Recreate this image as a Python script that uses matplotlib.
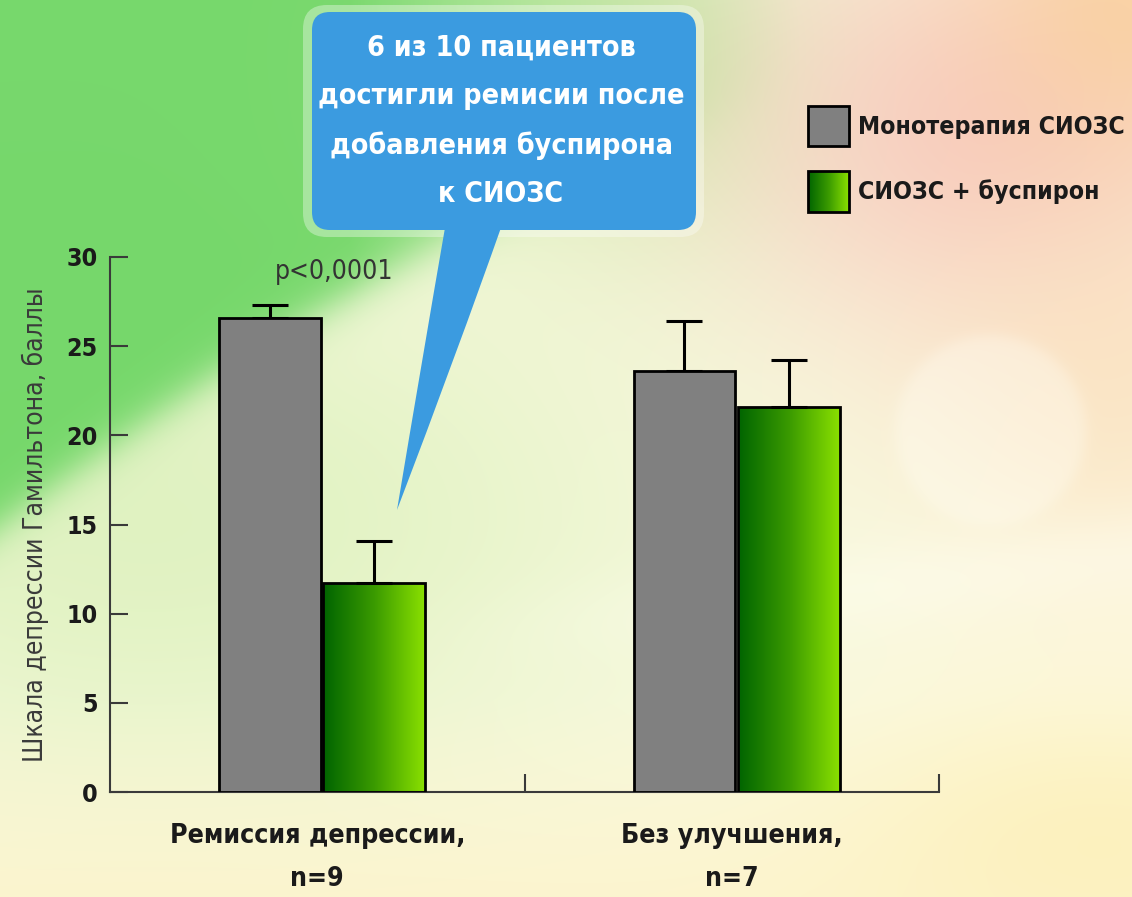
import numpy as np
import matplotlib
matplotlib.use('Agg')
import matplotlib.pyplot as plt
from matplotlib import font_manager as fm
from matplotlib.patches import FancyBboxPatch, Rectangle, PathPatch
from matplotlib.path import Path
from matplotlib.colors import LinearSegmentedColormap

# ---- data ----
groups = ['Ремиссия депрессии,\nn=9', 'Без улучшения,\nn=7']
series = ['Монотерапия СИОЗС', 'СИОЗС + буспирон']
mono_mean = [26.6, 23.6]
mono_err = [0.7, 2.8]
combo_mean = [11.7, 21.6]
combo_err = [2.4, 2.6]
yticks = [0, 5, 10, 15, 20, 25, 30]
ylabel = 'Шкала депрессии Гамильтона, баллы'
pval = 'p<0,0001'
callout = '6 из 10 пациентов\nдостигли ремисии после\nдобавления буспирона\nк СИОЗС'

W, H = 1132, 897
txtcol = '#1a1a1a'
axcol = '#3a3a3a'
greens = LinearSegmentedColormap.from_list('gr', ['#006400', '#3a9a00', '#8ae000'])

# look for a narrow face, the original uses a condensed font
def is_narrow(f):
    return ('Narrow' in f.name or 'Condensed' in f.name or 'ondensed' in str(f.stretch)
            or 'Condensed' in f.fname or 'Narrow' in f.fname)

narrow = [f for f in fm.fontManager.ttflist if is_narrow(f) and f.style == 'normal']
reg = [f for f in narrow if f.weight in (400, 'normal', 'regular', 'book')]
bld = [f for f in narrow if f.weight in (700, 'bold')]
have_narrow = bool(reg and bld)

# sizes (narrow, fallback)
S = {'call': (20.5, 18), 'leg': (17.8, 15), 'xlab': (19.2, 17), 'ytick': (17.9, 16),
     'ylab': (19, 17), 'p': (19, 17)}

def fp(key, bold=False):
    size = S[key][0] if have_narrow else S[key][1]
    if have_narrow:
        return fm.FontProperties(fname=(bld if bold else reg)[0].fname, size=size)
    return fm.FontProperties(family='DejaVu Sans', weight='bold' if bold else 'normal', size=size)

# ---- background wash ----
yy, xx = np.mgrid[0:H, 0:W].astype(float)

def mix(img, col, w):
    w = np.clip(w, 0, 1)[..., None]
    return img * (1 - w) + np.array(col) * w

img = np.ones((H, W, 3)) * np.array([0.995, 0.985, 0.90])
img = mix(img, (0.88, 0.95, 0.76),
          np.exp(-((xx - 150) ** 2 / 550 ** 2 + (yy - 520) ** 2 / 300 ** 2)))
edge = 525 - 0.75 * xx + 0.00025 * xx ** 2
gmask = 1 / (1 + np.exp(-(edge - yy) / 14))
gfade = np.clip(1 - (xx - 350) / 450, 0, 1)
img = mix(img, (0.44, 0.84, 0.40), 0.95 * gmask * gfade)
img = mix(img, (0.72, 0.90, 0.58), 0.6 * np.exp(-((xx - 640) ** 2 / 200 ** 2 + (yy - 80) ** 2 / 170 ** 2)))
img = mix(img, (0.97, 0.78, 0.74),
          0.9 * np.exp(-((xx - 1000) ** 2 / 280 ** 2 + (yy - 130) ** 2 / 220 ** 2)))
img = mix(img, (0.98, 0.80, 0.58),
          0.7 * np.exp(-((xx - W) ** 2 / 160 ** 2 + yy ** 2 / 160 ** 2)))
img = mix(img, (0.98, 0.87, 0.72),
          0.6 * np.exp(-((xx - 1120) ** 2 / 200 ** 2 + (yy - 380) ** 2 / 200 ** 2)))
img = mix(img, (0.99, 0.91, 0.58),
          0.6 * np.exp(-((xx - 1100) ** 2 / 260 ** 2 + (yy - 880) ** 2 / 160 ** 2)))
img = mix(img, (0.99, 0.95, 0.78), np.clip((yy - 700) / 200, 0, 1) * 0.7)
circ = 1 / (1 + np.exp((np.hypot(xx - 990, yy - 430) - 95) / 4))
img = mix(img, (1, 1, 0.97), 0.35 * circ)
swoosh = np.exp(-((yy - (690 - 0.12 * xx)) ** 2) / 45 ** 2) * np.clip((xx - 400) / 400, 0, 1)
img = mix(img, (1, 1, 0.96), 0.35 * swoosh)

fig = plt.figure(figsize=(W / 100, H / 100), dpi=100)
bg = fig.add_axes([0, 0, 1, 1], zorder=0)
bg.imshow(img, extent=(0, W, H, 0), aspect='auto')
bg.axis('off')

# ---- main chart ----
ax = fig.add_axes([110 / W, 105 / H, 829 / W, 535 / H], zorder=1)
ax.set_facecolor('none')
x = np.arange(len(groups))
bw = 0.246
xl = x - 0.114
xr = x + 0.137

b1 = ax.bar(xl, mono_mean, bw, color='#808080', edgecolor='black', linewidth=2, zorder=3)
b2 = ax.bar(xr, combo_mean, bw, color='none', edgecolor='black', linewidth=2, zorder=3)
grad = np.linspace(0, 1, 256).reshape(1, -1)
for bar in b2:
    x0, y0 = bar.get_xy()
    im = ax.imshow(grad, cmap=greens, extent=(x0, x0 + bar.get_width(), y0, y0 + bar.get_height()),
                   aspect='auto', zorder=2)
    im.set_clip_path(bar)

ax.errorbar(xl, mono_mean, yerr=[np.zeros(len(x)), mono_err], fmt='none', ecolor='black',
            elinewidth=2.2, capsize=13, capthick=2.2, zorder=2)
ax.errorbar(xr, combo_mean, yerr=[np.zeros(len(x)), combo_err], fmt='none', ecolor='black',
            elinewidth=2.2, capsize=13, capthick=2.2, zorder=2)

ax.set_xlim(-0.5, 1.5)
ax.set_ylim(0, 30)
for s in ['top', 'right']:
    ax.spines[s].set_visible(False)
for s in ['left', 'bottom']:
    ax.spines[s].set_color(axcol)
    ax.spines[s].set_linewidth(1.5)

ax.set_yticks(yticks)
ax.set_yticklabels([str(t) for t in yticks], fontproperties=fp('ytick', True), color=txtcol)
ax.tick_params(axis='y', direction='in', length=13, width=1.5, color=axcol, pad=9)
ax.set_xticks(x)
ax.set_xticklabels(groups, fontproperties=fp('xlab', True), color=txtcol, linespacing=1.88)
ax.tick_params(axis='x', which='major', length=0, pad=22)
ax.set_xticks([0.5, 1.5], minor=True)
ax.tick_params(axis='x', which='minor', direction='in', length=13, width=1.5, color=axcol)
ax.set_ylabel(ylabel, fontproperties=fp('ylab'), color='#3a3a3a', labelpad=12)

ax.text(0.04, 29.15, pval, ha='center', va='center', fontproperties=fp('p'), color='#333333')

# ---- overlay: callout and legend ----
ov = fig.add_axes([0, 0, 1, 1], zorder=5)
ov.set_xlim(0, W)
ov.set_ylim(H, 0)
ov.axis('off')

ov.add_patch(FancyBboxPatch((303, 5), 401, 232, boxstyle='round,pad=0,rounding_size=24',
                            fc='white', ec='none', alpha=0.35))
blue = '#3b9be0'
ov.add_patch(FancyBboxPatch((312, 12), 384, 218, boxstyle='round,pad=0,rounding_size=18',
                            fc=blue, ec='none'))
tail = Path([(446, 222), (422, 360), (397, 510), (458, 350), (503, 222), (446, 222)],
            [Path.MOVETO, Path.CURVE3, Path.CURVE3, Path.CURVE3, Path.CURVE3, Path.CLOSEPOLY])
ov.add_patch(PathPatch(tail, fc=blue, ec='none'))
ov.text(501, 121, callout, ha='center', va='center', color='white',
        fontproperties=fp('call', True), linespacing=1.93)

ov.add_patch(Rectangle((808, 106), 41, 40, fc='#808080', ec='black', lw=2))
ov.imshow(grad, cmap=greens, extent=(808, 849, 212, 171), aspect='auto', zorder=1)
ov.add_patch(Rectangle((808, 171), 41, 41, fc='none', ec='black', lw=2, zorder=2))
ov.set_xlim(0, W)
ov.set_ylim(H, 0)
ov.text(858, 127, series[0], ha='left', va='center', fontproperties=fp('leg', True), color=txtcol)
ov.text(858, 192, series[1], ha='left', va='center', fontproperties=fp('leg', True), color=txtcol)

fig.savefig('out.png', dpi=100)
